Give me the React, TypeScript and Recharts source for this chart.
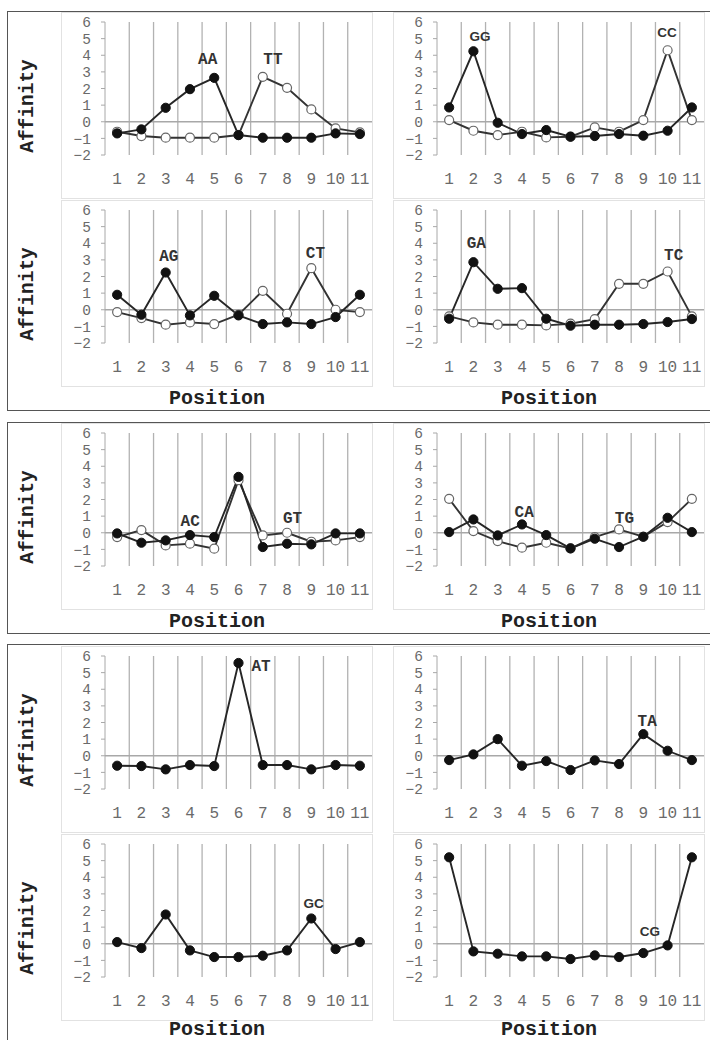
import { LineChart, Line, XAxis, YAxis, ReferenceLine, ReferenceDot } from "recharts";

const positions = [1, 2, 3, 4, 5, 6, 7, 8, 9, 10, 11];
const yTicks = [-2, -1, 0, 1, 2, 3, 4, 5, 6];

// affinity per position, filled markers
const AA = [-0.7, -0.46, 0.84, 1.96, 2.64, -0.8, -0.96, -0.96, -0.96, -0.7, -0.74];
const GG = [0.86, 4.24, -0.06, -0.74, -0.5, -0.9, -0.86, -0.74, -0.84, -0.54, 0.86];
const AG = [0.9, -0.3, 2.24, -0.34, 0.84, -0.34, -0.86, -0.76, -0.86, -0.44, 0.9];
const GA = [-0.54, 2.86, 1.26, 1.3, -0.54, -0.96, -0.9, -0.9, -0.86, -0.74, -0.56];
const AC = [-0.04, -0.6, -0.46, -0.14, -0.26, 3.36, -0.86, -0.66, -0.7, -0.04, -0.04];
const CA = [0.04, 0.8, -0.16, 0.5, -0.14, -0.94, -0.36, -0.86, -0.24, 0.9, 0.04];
const AT = [-0.6, -0.62, -0.82, -0.56, -0.62, 5.58, -0.56, -0.56, -0.82, -0.56, -0.6];
const TA = [-0.26, 0.08, 1.0, -0.6, -0.32, -0.86, -0.28, -0.5, 1.3, 0.3, -0.26];
const GC = [0.1, -0.26, 1.76, -0.4, -0.8, -0.8, -0.72, -0.4, 1.52, -0.32, 0.1];
const CG = [5.2, -0.46, -0.6, -0.76, -0.76, -0.92, -0.7, -0.8, -0.56, -0.1, 5.2];

// open markers (reverse complements)
const TT = [-0.6, -0.86, -0.96, -0.96, -0.96, -0.8, 2.7, 2.04, 0.74, -0.4, -0.64];
const CC = [0.1, -0.54, -0.8, -0.6, -0.94, -0.9, -0.34, -0.6, 0.1, 4.3, 0.1];
const CT = [-0.14, -0.5, -0.9, -0.76, -0.86, -0.3, 1.14, -0.24, 2.5, 0, -0.14];
const TC = [-0.4, -0.76, -0.9, -0.9, -0.94, -0.84, -0.56, 1.56, 1.56, 2.3, -0.4];
const GT = [-0.26, 0.16, -0.76, -0.66, -0.96, 3.16, -0.16, 0, -0.54, -0.46, -0.26];
const TG = [2.04, 0.1, -0.5, -0.9, -0.6, -0.94, -0.26, 0.2, -0.24, 0.64, 2.04];

const mono = '"Liberation Mono", "Courier New", monospace';
const sans = '"Liberation Sans", Arial, sans-serif';

const PANEL_W = 312;
const PANEL_H = 187;
const COL_X = [61, 393];

type Mark = { text: string; x: number; y: number };

type PanelProps = {
  left: number;
  top: number;
  filled: number[];
  open?: number[];
  marks: Mark[];
  sansMarks?: boolean;
};

function Panel({ left, top, filled, open, marks, sansMarks }: PanelProps) {
  const data = positions.map((p, i) => ({
    pos: p,
    filled: filled[i],
    open: open ? open[i] : null,
  }));
  const bounds = positions.slice(0, -1).map((p) => p + 0.5);

  return (
    <div
      style={{
        position: "absolute",
        left,
        top,
        width: PANEL_W,
        height: PANEL_H,
        border: "1px solid #e2e2e2",
        boxSizing: "border-box",
        background: "#fff",
      }}
    >
      <LineChart
        width={PANEL_W - 2}
        height={PANEL_H - 2}
        data={data}
        margin={{ top: 9, right: 0, bottom: 0, left: 0 }}
      >
        <XAxis
          type="number"
          dataKey="pos"
          domain={[0.5, 11.5]}
          ticks={positions}
          interval={0}
          axisLine={false}
          tickLine={false}
          tickMargin={12}
          height={43}
          tick={{ fill: "#6a6a6a", fontSize: 16, fontFamily: mono }}
        />
        <YAxis
          type="number"
          domain={[-2, 6]}
          ticks={yTicks}
          interval={0}
          width={43}
          axisLine={{ stroke: "#a8a8a8" }}
          tickLine={{ stroke: "#a8a8a8" }}
          tickSize={4}
          tickMargin={10}
          tickFormatter={(v: number) => String(v).replace("-", "\u2212")}
          tick={{ fill: "#6a6a6a", fontSize: 14.5, fontFamily: mono }}
        />
        {bounds.map((b) => (
          <ReferenceLine key={b} x={b} stroke="#b2b2b2" strokeWidth={1.3} />
        ))}
        <ReferenceLine y={0} stroke="#a8a8a8" strokeWidth={1.3} />
        {open && (
          <Line
            dataKey="open"
            stroke="#333"
            strokeWidth={1.9}
            dot={{ r: 4.5, fill: "#fff", stroke: "#666", strokeWidth: 1.2 }}
            activeDot={false}
            isAnimationActive={false}
          />
        )}
        <Line
          dataKey="filled"
          stroke="#262626"
          strokeWidth={1.9}
          dot={{ r: 4.6, fill: "#111", stroke: "#111", strokeWidth: 1 }}
          activeDot={false}
          isAnimationActive={false}
        />
        {marks.map((m) => (
          <ReferenceDot
            key={m.text}
            x={m.x}
            y={m.y}
            r={1}
            fill="none"
            stroke="none"
            label={{
              value: m.text,
              position: "center",
              fill: "#333",
              fontSize: sansMarks ? 13.5 : 16,
              fontWeight: "bold",
              fontFamily: sansMarks ? sans : mono,
            }}
          />
        ))}
      </LineChart>
    </div>
  );
}

function Frame({ top, height }: { top: number; height: number }) {
  return (
    <div
      style={{
        position: "absolute",
        left: 7,
        top,
        width: 720,
        height,
        border: "1.5px solid #555",
        boxSizing: "border-box",
      }}
    />
  );
}

function YTitle({ centerY }: { centerY: number }) {
  return (
    <div
      style={{
        position: "absolute",
        left: 28 - 60,
        top: centerY - 12,
        width: 120,
        height: 24,
        lineHeight: "24px",
        textAlign: "center",
        transform: "rotate(-90deg)",
        fontFamily: mono,
        fontWeight: "bold",
        fontSize: 19.5,
        color: "#222",
      }}
    >
      Affinity
    </div>
  );
}

function XTitle({ centerX, centerY }: { centerX: number; centerY: number }) {
  return (
    <div
      style={{
        position: "absolute",
        left: centerX - 80,
        top: centerY - 10,
        width: 160,
        height: 20,
        lineHeight: "20px",
        textAlign: "center",
        fontFamily: mono,
        fontWeight: "bold",
        fontSize: 20,
        color: "#222",
      }}
    >
      Position
    </div>
  );
}

function Titles({ rowTops, titleY }: { rowTops: number[]; titleY: number }) {
  return (
    <>
      {rowTops.map((t) => (
        <YTitle key={t} centerY={t + PANEL_H / 2} />
      ))}
      {COL_X.map((x) => (
        <XTitle key={x} centerX={x + PANEL_W / 2} centerY={titleY} />
      ))}
    </>
  );
}

export default function App() {
  return (
    <div
      style={{
        position: "absolute",
        left: 0,
        top: 0,
        width: 710,
        height: 1040,
        overflow: "hidden",
        background: "#fff",
      }}
    >
      <Frame top={11} height={399.5} />
      <Frame top={421.5} height={212} />
      <Frame top={644} height={420} />

      <Panel left={COL_X[0]} top={12} filled={AA} open={TT}
        marks={[{ text: "AA", x: 4.73, y: 3.82 }, { text: "TT", x: 7.42, y: 3.82 }]} />
      <Panel left={COL_X[1]} top={12} filled={GG} open={CC} sansMarks
        marks={[{ text: "GG", x: 2.27, y: 5.13 }, { text: "CC", x: 9.98, y: 5.36 }]} />
      <Panel left={COL_X[0]} top={200} filled={AG} open={CT}
        marks={[{ text: "AG", x: 3.13, y: 3.27 }, { text: "CT", x: 9.17, y: 3.47 }]} />
      <Panel left={COL_X[1]} top={200} filled={GA} open={TC}
        marks={[{ text: "GA", x: 2.12, y: 4.07 }, { text: "TC", x: 10.25, y: 3.33 }]} />
      <Titles rowTops={[12, 200]} titleY={398.5} />

      <Panel left={COL_X[0]} top={423} filled={AC} open={GT}
        marks={[{ text: "AC", x: 4.01, y: 0.72 }, { text: "GT", x: 8.23, y: 0.93 }]} />
      <Panel left={COL_X[1]} top={423} filled={CA} open={TG}
        marks={[{ text: "CA", x: 4.09, y: 1.28 }, { text: "TG", x: 8.22, y: 0.92 }]} />
      <Titles rowTops={[423]} titleY={621.5} />

      <Panel left={COL_X[0]} top={646} filled={AT}
        marks={[{ text: "AT", x: 6.93, y: 5.41 }]} />
      <Panel left={COL_X[1]} top={646} filled={TA}
        marks={[{ text: "TA", x: 9.16, y: 2.12 }]} />
      <Panel left={COL_X[0]} top={834} filled={GC} sansMarks
        marks={[{ text: "GC", x: 9.1, y: 2.46 }]} />
      <Panel left={COL_X[1]} top={834} filled={CG} sansMarks
        marks={[{ text: "CG", x: 9.27, y: 0.76 }]} />
      <Titles rowTops={[646, 834]} titleY={1029.5} />
    </div>
  );
}
